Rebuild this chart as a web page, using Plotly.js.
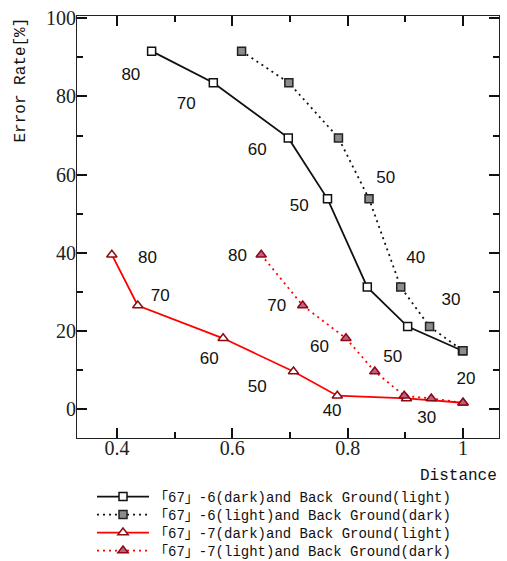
<!DOCTYPE html>
<html>
<head>
<meta charset="utf-8">
<script src="https://cdn.plot.ly/plotly-3.0.1.min.js"></script>
<style>html,body{margin:0;padding:0;background:#fff;}#chart{width:507px;height:561px;}</style>
</head>
<body>
<div id="chart"></div>
<script>
// ---- data ----
const errorRate = [91.6, 83.5, 69.4, 53.8, 31.2, 21.1, 14.9];
const dist6Dark  = [0.460, 0.567, 0.697, 0.765, 0.834, 0.904, 0.999];
const dist6Light = [0.616, 0.698, 0.784, 0.837, 0.892, 0.942, 1.000];

const errorRate7 = [39.5, 26.5, 18.1, 9.6, 3.4, 2.7, 1.6];
const dist7Dark  = [0.391, 0.436, 0.584, 0.706, 0.782, 0.902, 1.000];
const dist7Light = [0.650, 0.722, 0.797, 0.847, 0.898, 0.945, 1.000];

const seriesNames = [
  "\u300C67\u300D-6(dark)and Back Ground(light)",
  "\u300C67\u300D-6(light)and Back Ground(dark)",
  "\u300C67\u300D-7(dark)and Back Ground(light)",
  "\u300C67\u300D-7(light)and Back Ground(dark)"
];

// point labels (percent values) placed near the points
const labelText = ["80","70","60","50", "50","40","30","20", "80","70","60","50","40","30", "80","70","60","50"];
const labelX = [0.424,0.520,0.643,0.716, 0.866,0.918,0.979,1.005, 0.453,0.475,0.560,0.643,0.773,0.937, 0.609,0.677,0.751,0.878];
const labelY = [85.4,77.9,66.0,51.9, 59.0,38.4,27.7,7.4, 38.4,28.8,12.6,5.5,-0.8,-2.4, 38.9,26.2,15.7,13.0];

const monoFont = "Liberation Mono, 'Noto Sans CJK JP', monospace";

const traces = [
  {x: dist6Dark, y: errorRate, name: seriesNames[0], mode: "lines+markers", legend: "legend",
   line: {color: "#111", width: 1.8},
   marker: {symbol: "square", size: 8, color: "#fff", line: {color: "#111", width: 1.5}}},
  {x: dist6Light, y: errorRate, name: seriesNames[1], mode: "lines+markers", legend: "legend2",
   line: {color: "#111", width: 1.8, dash: "2px,4px"},
   marker: {symbol: "square", size: 8, color: "#8c8c8c", line: {color: "#222", width: 1.5}}},
  {x: dist7Dark, y: errorRate7, name: seriesNames[2], mode: "lines+markers", legend: "legend3",
   line: {color: "#ff0000", width: 1.8},
   marker: {symbol: "triangle-up", size: 9, color: "#fff", line: {color: "#8b0a14", width: 1.5}}},
  {x: dist7Light, y: errorRate7, name: seriesNames[3], mode: "lines+markers", legend: "legend4",
   line: {color: "#ff0000", width: 1.8, dash: "2px,4px"},
   marker: {symbol: "triangle-up", size: 9, color: "#c0608a", line: {color: "#8b0a14", width: 1.5}}},
  {x: labelX, y: labelY, text: labelText, mode: "text", showlegend: false, hoverinfo: "skip",
   textfont: {family: "Liberation Sans, Arial, sans-serif", size: 17, color: "#111"}}
];

function legendAt(rowCenterPx) {
  return {
    x: 92 / 507, xref: "container", xanchor: "left",
    y: (561 - rowCenterPx) / 561, yref: "container", yanchor: "middle",
    font: {family: monoFont, size: 14, color: "#111"},
    bgcolor: "rgba(0,0,0,0)", itemwidth: 52
  };
}

const tickFont = {family: "Liberation Serif, 'Times New Roman', serif", size: 20, color: "#222"};

const layout = {
  width: 507, height: 561,
  margin: {l: 77, r: 8, t: 16, b: 123, autoexpand: false},
  xaxis: {
    showline: true, linecolor: "#222", mirror: "ticks",
    ticks: "inside", ticklen: 10, tickwidth: 2, tickcolor: "#111",
    showgrid: false, tickfont: tickFont,
    range: [0.3306, 1.0624], tickmode: "linear", tick0: 0.4, dtick: 0.2,
    minor: {dtick: 0.1, ticks: "inside", ticklen: 6, tickwidth: 2, tickcolor: "#111"},
    ticklabelstandoff: -8
  },
  yaxis: {
    showline: true, linecolor: "#222", mirror: "ticks",
    ticks: "inside", ticklen: 10, tickwidth: 2, tickcolor: "#111",
    showgrid: false, zeroline: false, tickfont: tickFont,
    range: [-7.42, 100.6], tickmode: "linear", tick0: 0, dtick: 20,
    minor: {dtick: 10, ticks: "inside", ticklen: 6, tickwidth: 2, tickcolor: "#111"},
    ticklabelstandoff: -4
  },
  showlegend: true,
  legend: legendAt(497),
  legend2: legendAt(515),
  legend3: legendAt(533),
  legend4: legendAt(551),
  annotations: [
    {text: "Error Rate[%]", xref: "paper", yref: "paper", x: -0.135, y: 1.0, xanchor: "center", yanchor: "top",
     textangle: -90, showarrow: false, font: {family: monoFont, size: 16, color: "#111"}},
    {text: "Distance", xref: "paper", yref: "paper", x: 1.0, y: -0.09, xanchor: "right", yanchor: "middle",
     showarrow: false, font: {family: monoFont, size: 16, color: "#111"}}
  ]
};

Plotly.newPlot("chart", traces, layout, {displayModeBar: false, staticPlot: true});
</script>
</body>
</html>
